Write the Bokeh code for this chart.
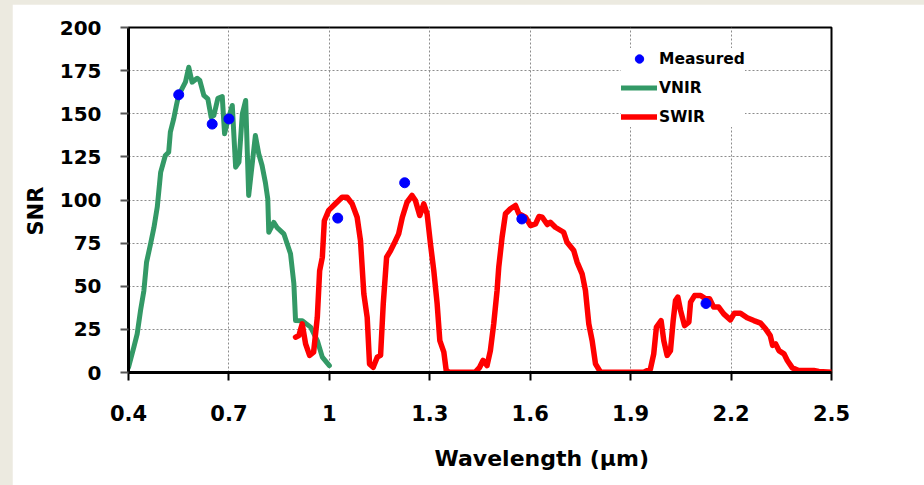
from bokeh.plotting import figure
from bokeh.models import (Range1d, FixedTicker, Legend, LegendItem, ColumnDataSource, Title)
from bokeh.layouts import column
from bokeh.embed import file_html
from bokeh.resources import INLINE

# Wavelength axis ticks
x_ticks = [0.4, 0.7, 1.0, 1.3, 1.6, 1.9, 2.2, 2.5]
x_tick_labels = ["0.4", "0.7", "1", "1.3", "1.6", "1.9", "2.2", "2.5"]
y_ticks = [0, 25, 50, 75, 100, 125, 150, 175, 200]

# VNIR spectrometer SNR
vnir_wl = [0.400, 0.416, 0.426, 0.436, 0.446, 0.454, 0.466, 0.476, 0.486, 0.496,
           0.510, 0.520, 0.525, 0.535, 0.543, 0.550, 0.560, 0.570, 0.580, 0.590,
           0.605, 0.613, 0.625, 0.637, 0.647, 0.655, 0.667, 0.680, 0.687, 0.695,
           0.710, 0.720, 0.730, 0.740, 0.750, 0.759, 0.779, 0.789, 0.799, 0.809,
           0.816, 0.819, 0.834, 0.844, 0.864, 0.884, 0.894, 0.899, 0.919, 0.944,
           0.964, 0.979, 1.000]
vnir_snr = [3, 14.7, 22.4, 36, 47.5, 64, 74.6, 84, 96, 116,
            125.8, 127.7, 139.3, 147, 154.8, 161, 164.5, 168.3, 177, 168.3,
            170.6, 169.3, 160.6, 158.6, 148, 149, 159, 160, 138.4, 145,
            154.8, 119, 122, 150, 157.7, 102.6, 137.4, 126.8, 120, 110,
            100.7, 81.3, 87, 84, 80.4, 68.8, 51.4, 30.1, 30, 26.3,
            18.5, 8.9, 4]

# SWIR spectrometer SNR
swir_wl = [0.899, 0.909, 0.919, 0.929, 0.941, 0.953, 0.964, 0.971, 0.979, 0.985,
           0.998, 1.018, 1.038, 1.053, 1.068, 1.083, 1.093, 1.103, 1.113, 1.120,
           1.131, 1.143, 1.153, 1.161, 1.171, 1.183, 1.193, 1.207, 1.218, 1.232,
           1.247, 1.257, 1.270, 1.282, 1.292, 1.302, 1.312, 1.322, 1.330, 1.342,
           1.349, 1.357, 1.392, 1.436, 1.449, 1.459, 1.471, 1.481, 1.491, 1.501,
           1.506, 1.516, 1.526, 1.541, 1.556, 1.566, 1.586, 1.601, 1.616, 1.626,
           1.636, 1.651, 1.660, 1.675, 1.700, 1.710, 1.730, 1.740, 1.755, 1.765,
           1.775, 1.785, 1.795, 1.810, 1.939, 1.959, 1.969, 1.977, 1.991, 1.999,
           2.009, 2.019, 2.027, 2.034, 2.041, 2.049, 2.061, 2.074, 2.079, 2.091,
           2.109, 2.124, 2.136, 2.148, 2.163, 2.178, 2.198, 2.210, 2.228, 2.248,
           2.268, 2.288, 2.303, 2.317, 2.324, 2.333, 2.343, 2.358, 2.368, 2.383,
           2.402, 2.447, 2.462, 2.500]
swir_snr = [20.5, 21.4, 28.2, 16.6, 9.9, 11.8, 32, 59, 66.8, 88,
            94, 97.8, 101.6, 101.6, 97.8, 90, 76.5, 45.6, 32, 5,
            3, 8.9, 9.9, 39.8, 66.8, 70.7, 74.6, 80.4, 90, 98.7,
            102.6, 99.7, 91, 97.8, 92, 74.6, 59, 39.8, 18.5, 11.8,
            1.2, 0.2, 0.2, 0.2, 3, 7, 4, 12.7, 28.2, 47.5,
            61, 78.4, 92, 94.9, 96.8, 92, 90, 85.2, 86.2, 90.4,
            90, 85.8, 87.1, 84.2, 81.3, 75.5, 70.7, 64, 57.2, 47.5,
            28.2, 18.5, 5, 0.2, 0.2, 2, 10.8, 26.3, 30, 18.5,
            9.9, 12.7, 30, 41.7, 43.7, 36, 27.2, 29.2, 40.8, 44.6,
            44.6, 42.7, 42.7, 37.9, 37.9, 34, 30.5, 34.4, 34.4, 31.7,
            30.1, 28.6, 25.3, 21.4, 15.7, 16.6, 12.7, 10.8, 7, 2.7,
            1.2, 1.2, 0.6, 0.2]

# Measured SNR points
meas_wl = [0.55, 0.65, 0.70, 1.025, 1.225, 1.575, 2.125]
meas_snr = [161, 144, 147, 89.5, 110, 89, 40]

FONT = "DejaVu Sans"
GREEN = "#339966"
RED = "#FF0000"
BLUE = "#0000FF"

p = figure(
    frame_width=703, frame_height=345,
    min_border_left=116, min_border_right=93,
    min_border_top=23, min_border_bottom=113,
    x_range=Range1d(0.4, 2.5), y_range=Range1d(0, 200),
    output_backend="svg", toolbar_location=None,
    background_fill_color="white", border_fill_color="white",
)
p.margin = (4, 0, 0, 12)

p.outline_line_color = "black"
p.outline_line_width = 2

# grids
for g in (p.xgrid, p.ygrid):
    g.grid_line_color = "#8c8c8c"
    g.grid_line_dash = "2 2"
    g.grid_line_width = 1
p.xgrid.ticker = FixedTicker(ticks=x_ticks)
p.ygrid.ticker = FixedTicker(ticks=y_ticks)

# x axis
xa = p.xaxis[0]
xa.ticker = FixedTicker(ticks=x_ticks)
xa.major_label_overrides = {t: s for t, s in zip(x_ticks, x_tick_labels)}
xa.axis_line_color = "black"
xa.axis_line_width = 3
xa.major_tick_line_color = "black"
xa.major_tick_line_width = 2
xa.major_tick_out = 8
xa.major_tick_in = 0
xa.minor_tick_line_color = None
xa.major_label_text_font = FONT
xa.major_label_text_font_style = "bold"
xa.major_label_text_font_size = "21px"
xa.major_label_text_color = "black"
xa.major_label_standoff = 24

# y axis
ya = p.yaxis[0]
ya.ticker = FixedTicker(ticks=y_ticks)
ya.axis_line_color = "black"
ya.axis_line_width = 3
ya.major_tick_line_color = "#555555"
ya.major_tick_line_width = 2
ya.major_tick_out = 8
ya.major_tick_in = 0
ya.minor_tick_line_color = None
ya.major_label_text_font = FONT
ya.major_label_text_font_style = "bold"
ya.major_label_text_font_size = "20px"
ya.major_label_text_color = "black"
ya.major_label_standoff = 19

# axis titles, placed off the frame centre
x_title = Title(text="Wavelength  (µm)", align="left", offset=306,
                text_font=FONT, text_font_style="bold", text_font_size="22px",
                text_color="black", standoff=41)
p.add_layout(x_title, "below")
y_title = Title(text="SNR", align="left", offset=137,
                text_font=FONT, text_font_style="bold", text_font_size="21px",
                text_color="black", standoff=17)
p.add_layout(y_title, "left")

vnir_src = ColumnDataSource(dict(x=vnir_wl, y=vnir_snr))
swir_src = ColumnDataSource(dict(x=swir_wl, y=swir_snr))
meas_src = ColumnDataSource(dict(x=meas_wl, y=meas_snr))

r_vnir = p.line("x", "y", source=vnir_src, line_color=GREEN, line_width=5,
                line_join="round", line_cap="round")
r_swir = p.line("x", "y", source=swir_src, line_color=RED, line_width=5.5,
                line_join="round", line_cap="round")
r_meas = p.scatter("x", "y", source=meas_src, size=10, marker="circle",
                   fill_color=BLUE, line_color=BLUE)

legend = Legend(
    items=[LegendItem(label="Measured", renderers=[r_meas]),
           LegendItem(label="VNIR", renderers=[r_vnir]),
           LegendItem(label="SWIR", renderers=[r_swir])],
    location=(493, 245),
    orientation="vertical",
    glyph_width=36, glyph_height=21,
    label_height=21, label_standoff=2,
    spacing=8, padding=5, margin=0,
    border_line_color=None,
    background_fill_color="white", background_fill_alpha=1.0,
    label_text_font=FONT, label_text_font_style="bold",
    label_text_font_size="15.5px", label_text_color="black",
)
p.add_layout(legend)

page = column(p, styles={"background-color": "#ECEAE0"})

open("out.html", "w").write(file_html(page, INLINE))
